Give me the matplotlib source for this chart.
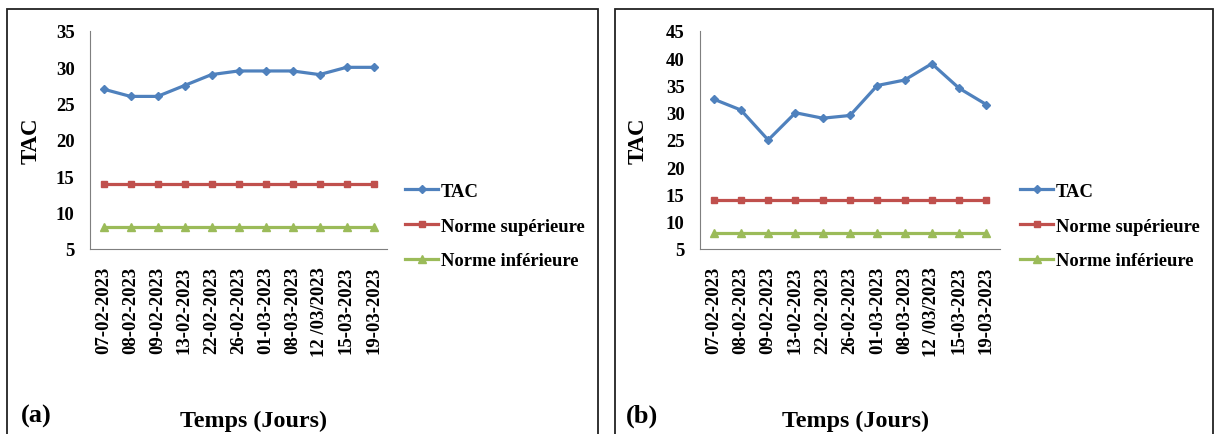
import numpy as np
import matplotlib
matplotlib.use("Agg")
import matplotlib.pyplot as plt
from matplotlib.patches import Rectangle

plt.rcParams['font.family'] = ['Liberation Serif', 'DejaVu Serif']
plt.rcParams['font.weight'] = 'bold'

# Dates (same for both panels)
dates = ['07-02-2023', '08-02-2023', '09-02-2023', '13-02-2023', '22-02-2023',
         '26-02-2023', '01-03-2023', '08-03-2023', '12 /03/2023', '15-03-2023',
         '19-03-2023']

# TAC values
tac_a = [27, 26, 26, 27.5, 29, 29.5, 29.5, 29.5, 29, 30, 30]
tac_b = [32.5, 30.5, 25, 30, 29, 29.5, 35, 36, 39, 34.5, 31.5]

# Standards
norme_sup = [14] * len(dates)
norme_inf = [8] * len(dates)

ylim_a = (5, 35)
ylim_b = (5, 45)

blue = '#4F81BD'
red = '#C0504D'
green = '#9BBB59'

W, H = 1216, 435
fig = plt.figure(figsize=(W / 100, H / 100), dpi=100)


def px_box(x0, y0, x1, y1):
    # convert pixel box (top-left origin) to figure fraction rect
    return [x0 / W, 1 - y1 / H, (x1 - x0) / W, (y1 - y0) / H]


def draw_panel(ax_box, tac, ylim, letter, panel_box, legend_x, xlabel_x, letter_x, ylabpad):
    # panel frame
    fig.patches.append(Rectangle((panel_box[0] / W, -0.1), (panel_box[1] - panel_box[0]) / W,
                                 1 - 10 / H + 0.1, transform=fig.transFigure,
                                 fill=False, edgecolor='#222222', linewidth=1.3))
    ax = fig.add_axes(px_box(*ax_box))
    x = np.arange(len(dates))
    ax.plot(x, tac, color=blue, marker='D', markersize=4.5, linewidth=2.3, label='TAC')
    ax.plot(x, norme_sup, color=red, marker='s', markersize=5, linewidth=2.3,
            label='Norme supérieure')
    ax.plot(x, norme_inf, color=green, marker='^', markersize=6, linewidth=2.3,
            label='Norme inférieure')
    ax.set_xlim(-0.5, len(dates) - 0.5)
    ax.set_ylim(*ylim)
    ax.set_yticks(np.arange(ylim[0], ylim[1] + 1, 5))
    ax.set_xticks(x)
    ax.set_xticklabels(dates, rotation=90, fontsize=13.5, fontweight='bold')
    ax.tick_params(axis='x', length=0, pad=12)
    ax.tick_params(axis='y', length=0, pad=11, labelsize=13.5)
    for lab in ax.get_yticklabels():
        lab.set_fontweight('bold')
    ax.spines['top'].set_visible(False)
    ax.spines['right'].set_visible(False)
    ax.spines['left'].set_color('#7f7f7f')
    ax.spines['bottom'].set_color('#7f7f7f')
    ax.set_ylabel('TAC', fontsize=16.5, fontweight='bold', labelpad=ylabpad)

    ax.legend(loc='center left', bbox_to_anchor=(legend_x / W, 1 - 227 / H),
              bbox_transform=fig.transFigure, frameon=False,
              handlelength=1.75, handletextpad=0.15, labelspacing=0.95,
              borderaxespad=0, prop={'weight': 'bold', 'size': 13.4})
    fig.text(xlabel_x / W, 1 - 421 / H, 'Temps (Jours)', ha='center', va='center',
             fontsize=17.3, fontweight='bold')
    fig.text(letter_x / W, 1 - 416 / H, letter, ha='left', va='center',
             fontsize=19, fontweight='bold')
    return ax


draw_panel((90, 32, 387, 250), tac_a, ylim_a, '(a)', (7, 598), 398, 254, 21, 10.5)
draw_panel((700, 32, 1000, 250), tac_b, ylim_b, '(b)', (615, 1213), 1013, 856, 626, 12.5)

fig.savefig('out.png', dpi=100)
